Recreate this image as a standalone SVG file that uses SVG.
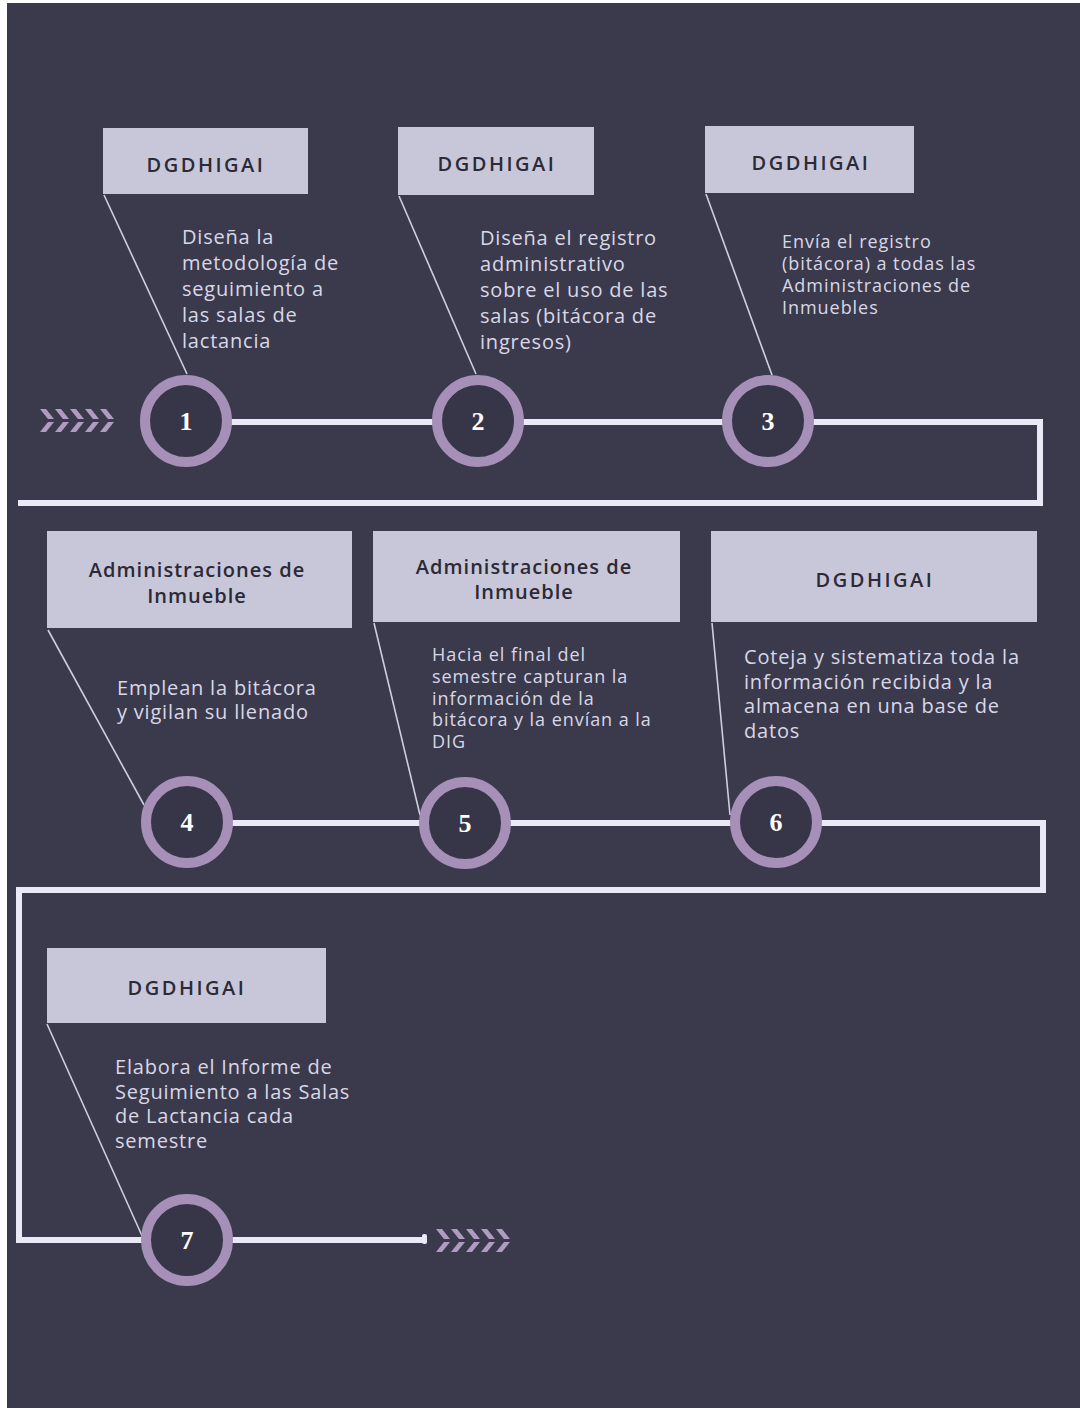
<svg xmlns="http://www.w3.org/2000/svg" width="1080" height="1408" viewBox="0 0 1080 1408">
<style>
.bg{fill:#3b3a4d}
.box{fill:#c8c7d9}
.hd{font-family:"Open Sans","Liberation Sans",sans-serif;font-weight:600;font-size:20px;fill:#2b2a36;text-anchor:middle;letter-spacing:1px}
.hd.d{letter-spacing:2.5px}
.tx{font-family:"Open Sans","Liberation Sans",sans-serif;font-size:20px;fill:#d9d7e6;letter-spacing:0.8px}
.tx.s{font-size:18px;letter-spacing:0.95px}
.ring{fill:#373649;stroke:#a690b7;stroke-width:10}
.num{font-family:"Liberation Serif","DejaVu Serif",serif;font-weight:bold;font-size:26px;fill:#ffffff;text-anchor:middle}
.path{fill:none;stroke:#ebe9f5;stroke-width:6;stroke-linejoin:miter}
.lead{stroke:#cfcde0;stroke-width:1.6;fill:none}
.chev{fill:#b09cc2}
</style>
<defs>
<g id="chev">
<polygon points="0,0 6,0 14,10 8,10"/>
<polygon points="8,13 14,13 6,23 0,23"/>
</g>
</defs>
<rect class="bg" x="0" y="0" width="1080" height="1408"/>
<rect x="0" y="0" width="7" height="1408" fill="#ffffff"/>
<rect x="0" y="0" width="1080" height="3" fill="#ffffff"/>

<g id="connectors">
<polyline class="path" points="186,422 1040,422 1040,503 18,503"/>
<polyline class="path" points="188,823 1043,823 1043,890 19,890 19,1240 425,1240"/>
<rect x="422" y="1234" width="5" height="10" rx="2" fill="#ebe9f5"/>
<line class="lead" x1="104" y1="195" x2="187" y2="374"/>
<line class="lead" x1="399" y1="196" x2="476" y2="374"/>
<line class="lead" x1="706" y1="194" x2="772" y2="375"/>
<line class="lead" x1="48" y1="630" x2="144" y2="805"/>
<line class="lead" x1="374" y1="623" x2="420" y2="815"/>
<line class="lead" x1="712" y1="623" x2="730" y2="815"/>
<line class="lead" x1="47" y1="1024" x2="143" y2="1238"/>
<g class="chev">
<use href="#chev" x="40" y="409"/><use href="#chev" x="55" y="409"/><use href="#chev" x="70" y="409"/><use href="#chev" x="85" y="409"/><use href="#chev" x="100" y="409"/>
<use href="#chev" x="436" y="1229"/><use href="#chev" x="451" y="1229"/><use href="#chev" x="466" y="1229"/><use href="#chev" x="481" y="1229"/><use href="#chev" x="496" y="1229"/>
</g>
</g>

<g id="step1">
<rect class="box" x="103" y="128" width="205" height="66"/>
<text class="hd d" x="206" y="172">DGDHIGAI</text>
<text class="tx" x="182" y="244">Diseña la</text>
<text class="tx" x="182" y="270">metodología de</text>
<text class="tx" x="182" y="296">seguimiento a</text>
<text class="tx" x="182" y="322">las salas de</text>
<text class="tx" x="182" y="348">lactancia</text>
<circle class="ring" cx="186" cy="421" r="41"/>
<text class="num" x="186" y="430">1</text>
</g>

<g id="step2">
<rect class="box" x="398" y="127" width="196" height="68"/>
<text class="hd d" x="497" y="171">DGDHIGAI</text>
<text class="tx" x="480" y="245">Diseña el registro</text>
<text class="tx" x="480" y="271">administrativo</text>
<text class="tx" x="480" y="297">sobre el uso de las</text>
<text class="tx" x="480" y="323">salas (bitácora de</text>
<text class="tx" x="480" y="349">ingresos)</text>
<circle class="ring" cx="478" cy="421" r="41"/>
<text class="num" x="478" y="430">2</text>
</g>

<g id="step3">
<rect class="box" x="705" y="126" width="209" height="67"/>
<text class="hd d" x="811" y="170">DGDHIGAI</text>
<text class="tx s" x="782" y="248">Envía el registro</text>
<text class="tx s" x="782" y="270">(bitácora) a todas las</text>
<text class="tx s" x="782" y="292">Administraciones de</text>
<text class="tx s" x="782" y="314">Inmuebles</text>
<circle class="ring" cx="768" cy="421" r="41"/>
<text class="num" x="768" y="430">3</text>
</g>

<g id="step4">
<rect class="box" x="47" y="531" width="305" height="97"/>
<text class="hd" x="197" y="577">Administraciones de</text>
<text class="hd" x="197" y="603">Inmueble</text>
<text class="tx" x="117" y="695">Emplean la bitácora</text>
<text class="tx" x="117" y="719">y vigilan su llenado</text>
<circle class="ring" cx="187" cy="822" r="41"/>
<text class="num" x="187" y="831">4</text>
</g>

<g id="step5">
<rect class="box" x="373" y="531" width="307" height="91"/>
<text class="hd" x="524" y="574">Administraciones de</text>
<text class="hd" x="524" y="599">Inmueble</text>
<text class="tx s" x="432" y="661">Hacia el final del</text>
<text class="tx s" x="432" y="683">semestre capturan la</text>
<text class="tx s" x="432" y="705">información de la</text>
<text class="tx s" x="432" y="726">bitácora y la envían a la</text>
<text class="tx s" x="432" y="748">DIG</text>
<circle class="ring" cx="465" cy="823" r="41"/>
<text class="num" x="465" y="832">5</text>
</g>

<g id="step6">
<rect class="box" x="711" y="531" width="326" height="91"/>
<text class="hd d" x="875" y="587">DGDHIGAI</text>
<text class="tx" x="744" y="664">Coteja y sistematiza toda la</text>
<text class="tx" x="744" y="689">información recibida y la</text>
<text class="tx" x="744" y="713">almacena en una base de</text>
<text class="tx" x="744" y="738">datos</text>
<circle class="ring" cx="776" cy="822" r="41"/>
<text class="num" x="776" y="831">6</text>
</g>

<g id="step7">
<rect class="box" x="47" y="948" width="279" height="75"/>
<text class="hd d" x="187" y="995">DGDHIGAI</text>
<text class="tx" x="115" y="1074">Elabora el Informe de</text>
<text class="tx" x="115" y="1099">Seguimiento a las Salas</text>
<text class="tx" x="115" y="1123">de Lactancia cada</text>
<text class="tx" x="115" y="1148">semestre</text>
<circle class="ring" cx="187" cy="1240" r="41"/>
<text class="num" x="187" y="1249">7</text>
</g>
</svg>
